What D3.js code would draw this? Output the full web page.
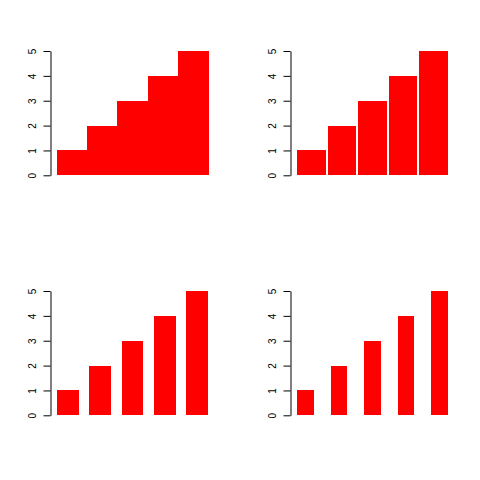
<!DOCTYPE html>
<html lang="en">
<head>
<meta charset="utf-8">
<title>barplot spacing</title>
<script src="https://d3js.org/d3.v7.min.js"></script>
<style>
  body { margin: 0; background: #fff; }
  svg { display: block; }
  .axis text { font-family: "Liberation Sans", Arial, sans-serif; font-size: 10px; fill: #000; }
  .axis path, .axis line { stroke: #000; stroke-width: 1; }
</style>
</head>
<body>
<svg width="480" height="480"></svg>
<script>
// data
var categories = ["a", "b", "c", "d", "e"];
var values = [1, 2, 3, 4, 5];
var yTicks = [0, 1, 2, 3, 4, 5];
// space between bars (fraction of bar width) for each panel
var spaces = [0, 0.06, 0.5, 1];

var svg = d3.select("svg");

// panel origins: left edge of first bar, y of zero line
var panels = [
  {x0: 57, x1: 208, yTop: 51, yBot: 175.3, axisX: 50.5},
  {x0: 297, x1: 448, yTop: 51, yBot: 175.3, axisX: 290.5},
  {x0: 57, x1: 208, yTop: 291, yBot: 415.3, axisX: 50.5},
  {x0: 297, x1: 448, yTop: 291, yBot: 415.3, axisX: 290.5}
];

panels.forEach(function(p, i) {
  var s = spaces[i];
  var x = d3.scaleBand()
    .domain(categories)
    .range([p.x0, p.x1])
    .paddingInner(s / (1 + s))
    .paddingOuter(0);
  var y = d3.scaleLinear().domain([0, 5]).range([p.yBot, p.yTop]);

  svg.append("g").selectAll("rect")
    .data(values)
    .enter().append("rect")
      .attr("x", function(d, j) { return x(categories[j]); })
      .attr("y", function(d) { return y(d); })
      .attr("width", x.bandwidth() + (s === 0 ? 0.5 : 0))
      .attr("height", function(d) { return y(0) - y(d); })
      .attr("fill", "#ff0000")
      .attr("shape-rendering", "crispEdges");

  var ax = svg.append("g")
    .attr("class", "axis")
    .attr("transform", "translate(" + p.axisX + ",0)")
    .call(d3.axisLeft(y).tickValues(yTicks).tickFormat(d3.format("d"))
      .tickSize(7).tickSizeOuter(0));
  ax.selectAll("text")
    .attr("x", null)
    .attr("dy", null)
    .attr("text-anchor", "middle")
    .attr("transform", "translate(-14.5,0) rotate(-90)");
});
</script>
</body>
</html>
